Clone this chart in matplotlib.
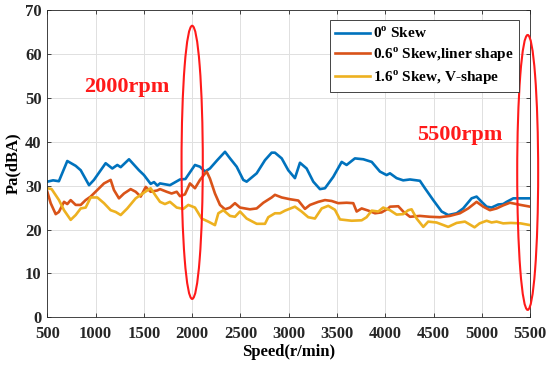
import numpy as np
import matplotlib
matplotlib.use("Agg")
from matplotlib import pyplot as plt
from matplotlib.patches import Ellipse

# data (speed in r/min, Pa in dBA)
speed_0 = [500, 560, 620, 707, 794, 846, 932, 983, 1104, 1173, 1225, 1260, 1346, 1449, 1501, 1570, 1605, 1639,
           1667, 1770, 1874, 1930, 2029, 2081, 2133, 2184, 2260, 2340, 2392, 2461, 2529, 2564, 2668, 2754, 2823,
           2857, 2927, 2995, 3064, 3116, 3185, 3254, 3323, 3375, 3461, 3548, 3599, 3685, 3772, 3859, 3944, 4013,
           4048, 4117, 4185, 4255, 4358, 4410, 4496, 4583, 4651, 4738, 4806, 4893, 4945, 4997, 5049, 5100, 5169,
           5220, 5256, 5325, 5500]
pa_0 = [30.9, 31.2, 31.0, 35.6, 34.5, 33.5, 30.1, 31.3, 35.1, 33.9, 34.7, 34.2, 36.0, 33.5, 32.4, 30.4, 30.8, 30.0,
        30.5, 30.1, 31.4, 31.5, 34.7, 34.3, 33.2, 33.9, 35.8, 37.7, 36.2, 34.3, 31.3, 30.9, 32.8, 35.8, 37.5,
        37.5, 36.2, 33.5, 31.7, 35.2, 33.9, 30.9, 29.2, 29.4, 32.0, 35.4, 34.7, 36.2, 36.0, 35.4, 33.2, 32.4,
        32.8, 31.7, 31.2, 31.4, 31.1, 29.4, 26.7, 24.1, 23.3, 23.7, 24.8, 27.1, 27.5, 26.3, 25.2, 25.0, 25.7,
        25.8, 26.3, 27.1, 27.1]

speed_06 = [500, 535, 587, 620, 673, 707, 742, 794, 846, 897, 949, 1018, 1087, 1156, 1190, 1242, 1294, 1363, 1415,
            1467, 1519, 1570, 1639, 1667, 1736, 1787, 1840, 1874, 1925, 1977, 2029, 2081, 2150, 2184, 2236, 2288,
            2340, 2392, 2443, 2495, 2598, 2668, 2737, 2823, 2857, 2927, 3013, 3099, 3168, 3220, 3306, 3375, 3444,
            3512, 3599, 3668, 3703, 3755, 3824, 3893, 3961, 4031, 4048, 4134, 4185, 4255, 4358, 4461, 4565, 4668,
            4772, 4858, 4945, 5014, 5083, 5152, 5220, 5290, 5400, 5500]
pa_06 = [28.6, 26.0, 23.5, 24.0, 26.3, 25.8, 26.7, 25.6, 25.6, 26.7, 27.5, 29.0, 30.5, 31.3, 29.0, 27.1, 28.2, 29.2,
         28.6, 27.5, 29.7, 28.6, 28.9, 29.2, 28.6, 28.2, 28.6, 27.6, 28.0, 30.5, 29.4, 31.3, 33.2, 31.6, 28.2, 25.6,
         24.6, 25.0, 26.0, 25.0, 24.6, 24.8, 26.1, 27.3, 27.9, 27.3, 26.9, 26.6, 24.7, 25.6, 26.3, 26.7, 26.5,
         26.0, 26.1, 26.0, 24.1, 24.8, 24.3, 23.7, 23.9, 24.8, 25.2, 25.3, 24.1, 22.9, 23.1, 22.9, 22.8, 23.1,
         23.7, 24.8, 26.3, 25.2, 24.4, 24.8, 25.5, 26.1, 25.6, 25.2]

speed_16 = [500, 545, 621, 673, 742, 794, 846, 897, 949, 1018, 1087, 1156, 1208, 1260, 1328, 1415, 1501, 1570, 1622,
            1667, 1718, 1770, 1840, 1908, 1960, 2029, 2098, 2167, 2236, 2271, 2323, 2392, 2443, 2495, 2564, 2668,
            2754, 2788, 2857, 2910, 2961, 3064, 3133, 3202, 3271, 3341, 3409, 3478, 3530, 3651, 3755, 3806, 3859,
            3927, 3978, 4048, 4117, 4185, 4237, 4272, 4324, 4393, 4444, 4530, 4651, 4738, 4824, 4924, 4976, 5049,
            5100, 5152, 5220, 5300, 5400, 5500]
pa_16 = [29.4, 29.2, 26.7, 24.4, 22.2, 23.3, 24.8, 25.0, 27.3, 27.3, 26.0, 24.4, 24.0, 23.3, 24.8, 27.1, 28.4, 29.4,
         27.7, 26.3, 25.8, 26.3, 25.0, 24.7, 25.6, 25.0, 22.5, 21.8, 21.0, 23.7, 24.4, 23.1, 22.9, 24.1, 22.5, 21.3,
         21.3, 22.8, 23.7, 23.7, 24.3, 25.2, 24.1, 22.8, 22.5, 24.8, 25.4, 24.5, 22.3, 22.0, 22.1, 22.8, 24.3,
         24.1, 25.0, 24.4, 23.4, 23.5, 24.4, 24.6, 22.5, 20.6, 21.8, 21.6, 20.6, 21.5, 21.8, 20.5, 21.4, 22.0,
         21.6, 21.8, 21.4, 21.5, 21.4, 21.0]

labels = [r'0$^{\mathrm{o}}$ Skew', r'0.6$^{\mathrm{o}}$ Skew,liner shape', r'1.6$^{\mathrm{o}}$ Skew, V-shape']
colors = ['#0072BD', '#D95319', '#EDB120']

plt.rcParams['font.family'] = ['Liberation Serif', 'DejaVu Serif']
plt.rcParams['font.weight'] = 'bold'
plt.rcParams['mathtext.fontset'] = 'custom'
plt.rcParams['mathtext.rm'] = 'Liberation Serif:bold'
plt.rcParams['mathtext.bf'] = 'Liberation Serif:bold'

fig = plt.figure(figsize=(5.5, 3.69), dpi=100)
ax = fig.add_axes([0.086, 0.140, 0.878, 0.833])

for s, p, c, l in zip([speed_0, speed_06, speed_16], [pa_0, pa_06, pa_16], colors, labels):
    ax.plot(s, p, color=c, lw=1.9, label=l)

# red ellipses marking the speeds
for cx, cy, w, h in [(2000, 35.3, 220, 62.2), (5474, 33.0, 217, 62.6)]:
    ax.add_patch(Ellipse((cx, cy), w, h, fill=False, edgecolor='#FF1A1A', lw=1.5, clip_on=False, zorder=5))

ax.text(1320, 52.5, '2000rpm', color='#FF1A1A', fontsize=16, fontweight='bold', ha='center', va='center')
ax.text(4770, 41.5, '5500rpm', color='#FF1A1A', fontsize=16, fontweight='bold', ha='center', va='center')

ax.set_xlim(500, 5500)
ax.set_ylim(0, 70)
ax.set_xticks(np.arange(500, 5501, 500))
ax.set_yticks(np.arange(0, 71, 10))
ax.tick_params(direction='in', top=True, right=True, labelsize=12, length=3, width=0.6, colors='#262626')
ax.tick_params(axis='x', pad=6)
ax.tick_params(axis='y', pad=4)
ax.grid(True, color='#E0E0E0', lw=0.7)
ax.set_axisbelow(True)
for sp in ax.spines.values():
    sp.set_color('#262626')
    sp.set_linewidth(0.6)

ax.set_xlabel('Speed(r/min)', fontsize=12, fontweight='bold', labelpad=2)
ax.set_ylabel('Pa(dBA)', fontsize=12, fontweight='bold', labelpad=3)

leg = ax.legend(loc='upper right', bbox_to_anchor=(0.977, 0.967), borderaxespad=0, fontsize=11,
                handlelength=2.3, handletextpad=0.2, labelspacing=0.3, borderpad=0.35,
                fancybox=False, framealpha=1, edgecolor='#262626')
leg.get_frame().set_linewidth(0.6)

fig.savefig('out.png', dpi=100)
